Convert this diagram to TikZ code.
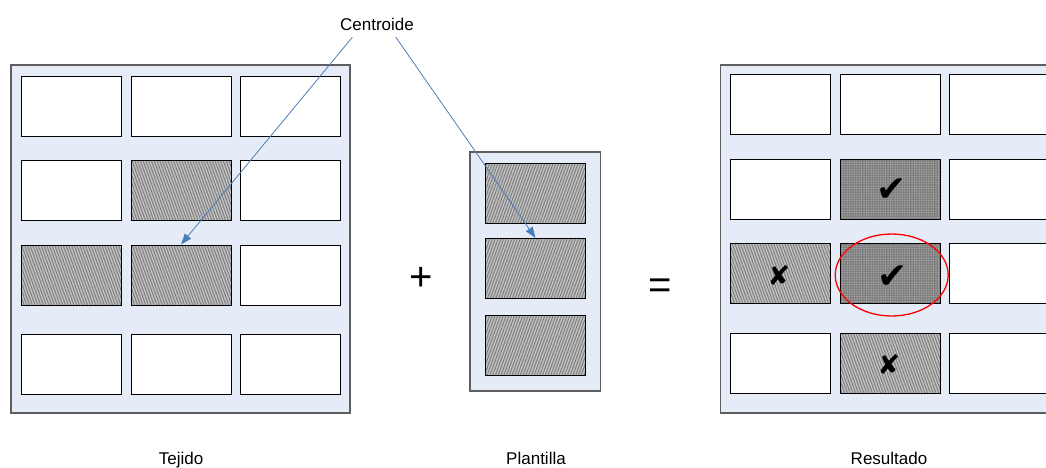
\documentclass[tikz,border=0pt]{standalone}
\usepackage{fontspec}
\setmainfont{Liberation Sans}
\newfontfamily\symfont{DejaVu Sans}
\usetikzlibrary{patterns.meta,arrows.meta,shapes.geometric}

\definecolor{panelfill}{HTML}{E6ECF7}
\definecolor{panelline}{HTML}{5E5E5E}
\definecolor{arrowblue}{HTML}{4A7EBB}
\definecolor{hatchbase}{HTML}{C0C0C0}
\definecolor{hatchline}{HTML}{7A7A7A}
\definecolor{dotbase}{HTML}{808080}
\definecolor{dotlight}{HTML}{BABABA}

\begin{document}
\begin{tikzpicture}[x=1pt,y=-1pt,
  panel/.style={draw=panelline, line width=1.2pt, fill=panelfill},
  cell/.style={rectangle, draw=black, line width=1pt, fill=white,
    minimum width=100pt, minimum height=60pt, inner sep=0pt},
  hatchback/.style={cell, fill=none, preaction={fill=hatchbase},
    pattern={Lines[angle=110,distance=2.6pt,line width=0.9pt]},
    pattern color=hatchline},
  hatchfwd/.style={cell, fill=none, preaction={fill=hatchbase},
    pattern={Lines[angle=70,distance=2.6pt,line width=0.9pt]},
    pattern color=hatchline},
  dotted cell/.style={cell, fill=none, preaction={fill=dotbase},
    pattern={Dots[distance=2.4pt,radius=0.6pt]},
    pattern color=dotlight},
  caption/.style={font=\fontsize{17}{20}\selectfont, inner sep=0pt, anchor=base},
  sign/.style={font=\fontsize{40}{44}\selectfont, inner sep=0pt, anchor=base},
  pointer/.style={draw=arrowblue, line width=0.8pt,
    -{Triangle[length=11pt,width=8pt]}},
  tick/.style={font=\symfont\fontsize{36}{38}\selectfont, inner sep=0pt},
  cross/.style={font=\symfont\fontsize{27}{30}\selectfont, inner sep=0pt},
  ring/.style={ellipse, draw=red, line width=1.3pt, fill=none,
    minimum width=113pt, minimum height=82pt, inner sep=0pt}]

\useasboundingbox (0,0) rectangle (1046,467);
\clip (0,0) rectangle (1046,467);

% ---------- Tejido ----------
\node[panel, rectangle, minimum width=339pt, minimum height=348pt, inner sep=0pt]
  (tejido) at (180.5,239) {};
\node[cell] (t11) at (71,106) {};
\node[cell] (t12) at (181,106) {};
\node[cell] (t13) at (290.5,106) {};
\node[cell] (t21) at (71,190) {};
\node[hatchback] (t22) at (181,190) {};
\node[cell] (t23) at (290.5,190) {};
\node[hatchback] (t31) at (71,275) {};
\node[hatchback] (t32) at (181,275) {};
\node[cell] (t33) at (290.5,275) {};
\node[cell] (t41) at (71,364) {};
\node[cell] (t42) at (181,364) {};
\node[cell] (t43) at (290.5,364) {};
\node[caption] (ltejido) at (181,464.5) {Tejido};

% ---------- Plantilla ----------
\node[panel, rectangle, minimum width=130.5pt, minimum height=239pt, inner sep=0pt]
  (plantilla) at (535.3,271.5) {};
\node[hatchfwd] (p1) at (535.5,193) {};
\node[hatchfwd] (p2) at (535.5,268.5) {};
\node[hatchfwd] (p3) at (535.5,345.3) {};
\node[caption] (lplantilla) at (536,464.5) {Plantilla};

% ---------- Resultado ----------
\node[panel, rectangle, minimum width=339pt, minimum height=348pt, inner sep=0pt]
  (resultado) at (890,239) {};
\node[cell] (r11) at (780.3,104.5) {};
\node[cell] (r12) at (890,104.5) {};
\node[cell] (r13) at (999.7,104.5) {};
\node[cell] (r21) at (780.3,189.2) {};
\node[dotted cell] (r22) at (890,189.2) {};
\node[cell] (r23) at (999.7,189.2) {};
\node[hatchback] (r31) at (780.3,273.3) {};
\node[dotted cell] (r32) at (890,273.3) {};
\node[cell] (r33) at (999.7,273.3) {};
\node[cell] (r41) at (780.3,363) {};
\node[hatchback] (r42) at (890,363) {};
\node[cell] (r43) at (999.7,363) {};
\node[caption] (lresultado) at (889,464.5) {Resultado};

% marks inside the result cells
\node[tick] (k22) at (892,190) {✔};
\node[tick] (k32) at (893,277) {✔};
\node[cross] (x31) at (779,276) {✘};
\node[cross] (x42) at (889,365) {✘};
\node[ring] (hit) at (891.7,275) {};

% ---------- operators ----------
\node[sign] (plus) at (420.7,290) {+};
\node[sign] (equals) at (660.3,298) {=};

% ---------- centroid callout ----------
\node[caption] (centroide) at (377,30.7) {Centroide};
\coordinate (cA) at (352.3,37.3);
\coordinate (cB) at (395.7,37);
\draw[pointer] (cA) -- (t32.north);
\draw[pointer] (cB) -- (p2.north);

\end{tikzpicture}
\end{document}
